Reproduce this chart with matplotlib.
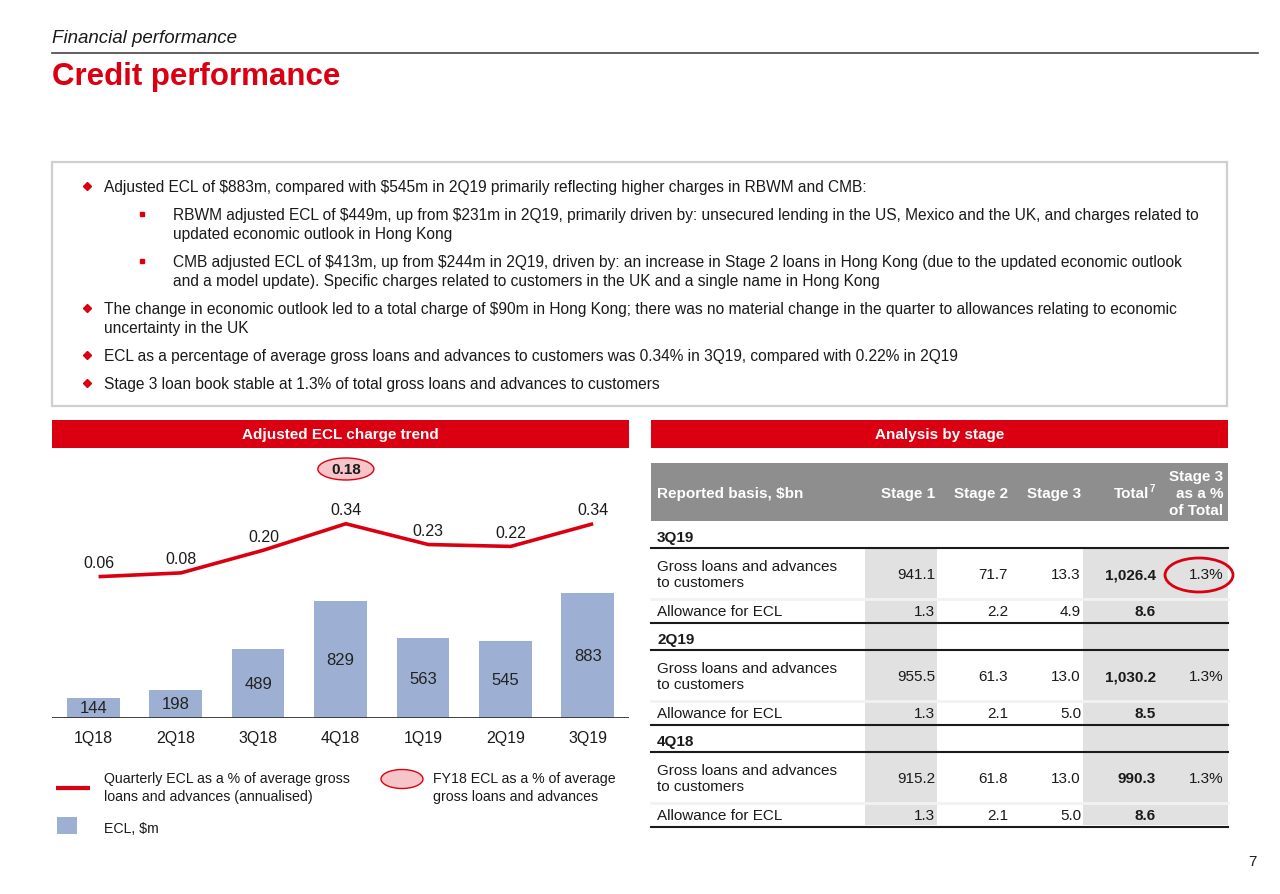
import matplotlib
matplotlib.use("Agg")
import matplotlib.pyplot as plt
from matplotlib.patches import Rectangle, Ellipse

plt.rcParams['font.family'] = ['Liberation Sans', 'DejaVu Sans']

# ---------------- data ----------------
quarters = ['1Q18', '2Q18', '3Q18', '4Q18', '1Q19', '2Q19', '3Q19']
ecl_m = [144, 198, 489, 829, 563, 545, 883]
ecl_pct = [0.06, 0.08, 0.20, 0.34, 0.23, 0.22, 0.34]
fy18_pct = 0.18

periods = ['3Q19', '2Q19', '4Q18']
gross_stage1 = [941.1, 955.5, 915.2]
gross_stage2 = [71.7, 61.3, 61.8]
gross_stage3 = [13.3, 13.0, 13.0]
gross_total = [1026.4, 1030.2, 990.3]
stage3_share = [1.3, 1.3, 1.3]
allow_stage1 = [1.3, 1.3, 1.3]
allow_stage2 = [2.2, 2.1, 2.1]
allow_stage3 = [4.9, 5.0, 5.0]
allow_total = [8.6, 8.5, 8.6]

table_cols = ['Stage 1', 'Stage 2', 'Stage 3', 'Total', 'Stage 3\nas a %\nof Total']

bullets = [
    ('main', ["Adjusted ECL of $883m, compared with $545m in 2Q19 primarily reflecting higher charges in RBWM and CMB:"]),
    ('sub', ["RBWM adjusted ECL of $449m, up from $231m in 2Q19, primarily driven by: unsecured lending in the US, Mexico and the UK, and charges related to",
             "updated economic outlook in Hong Kong"]),
    ('sub', ["CMB adjusted ECL of $413m, up from $244m in 2Q19, driven by: an increase in Stage 2 loans in Hong Kong (due to the updated economic outlook",
             "and a model update). Specific charges related to customers in the UK and a single name in Hong Kong"]),
    ('main', ["The change in economic outlook led to a total charge of $90m in Hong Kong; there was no material change in the quarter to allowances relating to economic",
              "uncertainty in the UK"]),
    ('main', ["ECL as a percentage of average gross loans and advances to customers was 0.34% in 3Q19, compared with 0.22% in 2Q19"]),
    ('main', ["Stage 3 loan book stable at 1.3% of total gross loans and advances to customers"]),
]

RED = '#DB0011'
BAR = '#9DB0D3'
TXT = '#1a1a1a'
W, H = 1280, 895

fig = plt.figure(figsize=(12.8, 8.95), dpi=100)
bg = fig.add_axes([0, 0, 1, 1])
bg.set_xlim(0, W)
bg.set_ylim(H, 0)
bg.axis('off')


def T(x, y, s, **kw):
    kw.setdefault('color', TXT)
    kw.setdefault('va', 'center')
    kw.setdefault('ha', 'left')
    return bg.text(x, y, s, parse_math=False, **kw)


# ---------------- header ----------------
T(52, 38, 'Financial performance', fontsize=13.5, style='italic')
bg.plot([52, 1258], [54, 54], color='#444444', lw=1.2)
T(52, 77, 'Credit performance', fontsize=22.5, fontweight='bold', color=RED)

# ---------------- bullet box ----------------
bg.add_patch(Rectangle((52, 163), 1175, 244, fill=False, ec='#cfcfcf', lw=1.6))
line_y = [[187], [215, 234], [262, 281], [309, 328], [356], [384]]
for (kind, lines), ys in zip(bullets, line_y):
    if kind == 'main':
        bg.plot(87, ys[0], marker='D', ms=4.5, color=RED, mec=RED)
        x0 = 104
    else:
        bg.plot(142, ys[0], marker='s', ms=2.4, color=RED, mec=RED)
        x0 = 173
    for s, y in zip(lines, ys):
        T(x0, y, s, fontsize=11.2)

# ---------------- section header bars ----------------
for x0, x1, s in [(52, 629, 'Adjusted ECL charge trend'), (651, 1228, 'Analysis by stage')]:
    bg.add_patch(Rectangle((x0, 421), x1 - x0, 28, color=RED, lw=0))
    T((x0 + x1) / 2, 435, s, ha='center', color='white', fontsize=11, fontweight='bold')

# ---------------- chart ----------------
ax_l, ax_r, ax_t, ax_b = 52, 629, 455, 719
ax = fig.add_axes([ax_l / W, 1 - ax_b / H, (ax_r - ax_l) / W, (ax_b - ax_t) / H])
x = list(range(len(quarters)))
bars = ax.bar(x, ecl_m, width=0.64, color=BAR, zorder=2)
ax.set_xlim(-0.5, 6.5)
ax.set_ylim(0, 264 / 0.1416)
for b, v in zip(bars, ecl_m):
    ax.text(b.get_x() + b.get_width() / 2, v / 2, f'{v}', ha='center', va='center',
            fontsize=12, color='#222222', zorder=3)
ax.axhline(0, color='#333333', lw=1.3, zorder=4)
ax.set_xticks(x)
ax.set_xticklabels(quarters, fontsize=11.5, color=TXT)
ax.tick_params(axis='x', length=0, pad=9)
ax.set_yticks([])
for sp in ax.spines.values():
    sp.set_visible(False)
ax.patch.set_alpha(0)

ax2 = ax.twinx()
ax2.set_xlim(-0.5, 6.5)
ax2.set_ylim(-(ax_b - 589) / 189, (589 - ax_t) / 189)
xl = [xi + 0.065 for xi in x]
ax2.plot(xl, ecl_pct, color=RED, lw=2.6, zorder=5, solid_capstyle='butt')
for xi, v in zip(xl, ecl_pct):
    ax2.annotate(f'{v:.2f}', (xi, v), xytext=(0, 10), textcoords='offset points',
                 ha='center', va='center', fontsize=11.5, color=TXT)
ax2.add_patch(Ellipse((3.065, (589 - 470) / 189), 0.68, 22 / 189, fc='#F7C5C9', ec=RED, lw=1.0, zorder=6))
ax2.text(3.065, (589 - 470) / 189, f'{fy18_pct:.2f}', ha='center', va='center', fontsize=11,
         fontweight='bold', color=TXT, zorder=7)
ax2.set_yticks([])
for sp in ax2.spines.values():
    sp.set_visible(False)

# ---------------- chart legend ----------------
bg.plot([56, 90], [789, 789], color=RED, lw=3, solid_capstyle='butt')
T(104, 779, 'Quarterly ECL as a % of average gross', fontsize=10.2)
T(104, 797, 'loans and advances (annualised)', fontsize=10.2)
bg.add_patch(Ellipse((402, 780), 42, 19, fc='#F7C5C9', ec=RED, lw=1.0))
T(433, 779, 'FY18 ECL as a % of average', fontsize=10.2)
T(433, 797, 'gross loans and advances', fontsize=10.2)
bg.add_patch(Rectangle((57, 818), 20, 17, color=BAR, lw=0))
T(104, 829, 'ECL, $m', fontsize=10.2)

# ---------------- table ----------------
tl, tr = 651, 1228
bg.add_patch(Rectangle((tl, 464), tr - tl, 58, color='#8E8E8E', lw=0))
col_right = [935, 1008, 1081, 1149, 1223]
T(657, 494, 'Reported basis, $bn', fontsize=11, fontweight='bold', color='white')
for cx, c in zip(col_right, table_cols):
    T(cx, 494, c, ha='right', fontsize=11, fontweight='bold', color='white', linespacing=1.25)
T(1150, 489, '7', ha='left', fontsize=7, fontweight='bold', color='white')
col_right[3] = 1156

# shading
bg.add_patch(Rectangle((865, 549), 72, 277, color='#E1E1E1', lw=0))
bg.add_patch(Rectangle((1083, 549), tr - 1083, 277, color='#E1E1E1', lw=0))

for i, p in enumerate(periods):
    top = 522 + i * 102
    T(657, top + 16, p, fontsize=11, fontweight='bold')
    bg.plot([tl, tr], [top + 27, top + 27], color='#1a1a1a', lw=1.5)
    gy = top + 53
    T(657, gy, 'Gross loans and advances\nto customers', fontsize=11, linespacing=1.15)
    vals = [f'{gross_stage1[i]:.1f}', f'{gross_stage2[i]:.1f}', f'{gross_stage3[i]:.1f}',
            f'{gross_total[i]:,.1f}', f'{stage3_share[i]:.1f}%']
    for k, (cx, v) in enumerate(zip(col_right, vals)):
        T(cx, gy, v, ha='right', fontsize=11, fontweight='bold' if k == 3 else 'normal')
    bg.plot([tl, tr], [top + 78, top + 78], color='#F2F2F2', lw=2)
    ay = top + 90
    T(657, ay, 'Allowance for ECL', fontsize=11)
    avals = [f'{allow_stage1[i]:.1f}', f'{allow_stage2[i]:.1f}', f'{allow_stage3[i]:.1f}',
             f'{allow_total[i]:.1f}']
    for k, (cx, v) in enumerate(zip(col_right, avals)):
        T(cx, ay, v, ha='right', fontsize=11, fontweight='bold' if k == 3 else 'normal')
    bg.plot([tl, tr], [top + 102, top + 102], color='#1a1a1a', lw=1.5)

bg.add_patch(Ellipse((1199, 576), 68, 34, fill=False, ec=RED, lw=2))

T(1257, 862, '7', ha='right', fontsize=11)

fig.savefig('out.png', dpi=100)
